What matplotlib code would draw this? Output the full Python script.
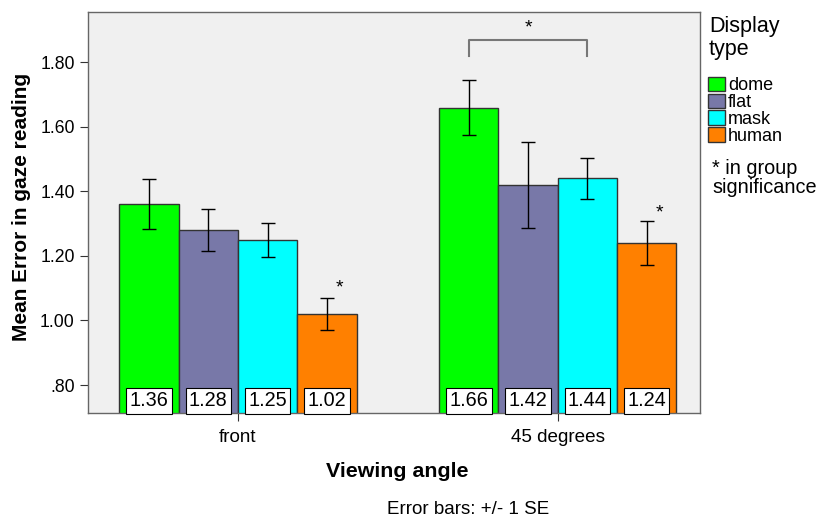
import matplotlib
matplotlib.use("Agg")
import matplotlib.pyplot as plt
from matplotlib.ticker import FuncFormatter
import numpy as np

plt.rcParams['font.family'] = ['Liberation Sans', 'DejaVu Sans']

# mean error per viewing angle and display type
angles = ['front', '45 degrees']
displays = ['dome', 'flat', 'mask', 'human']
colors = ['#00ff00', '#7878a8', '#00ffff', '#ff8000']
means = {
    'dome':  [1.36, 1.66],
    'flat':  [1.28, 1.42],
    'mask':  [1.25, 1.44],
    'human': [1.02, 1.24],
}
se = {
    'dome':  [0.078, 0.084],
    'flat':  [0.064, 0.134],
    'mask':  [0.053, 0.063],
    'human': [0.051, 0.068],
}

fig = plt.figure(figsize=(8.17, 5.19), dpi=100)
ax = fig.add_axes([88/817, 1-413.3/519, 612/817, 401.3/519])
ax.set_facecolor('#f0f0f0')

x = np.arange(len(angles))
w = 0.1855
handles = []
for i, d in enumerate(displays):
    xs = x + (i - 1.5) * w
    b = ax.bar(xs, means[d], width=w, bottom=0, color=colors[i],
               edgecolor='#333333', linewidth=1.0, zorder=2, label=d)
    handles.append(b)
    ax.errorbar(xs, means[d], yerr=se[d], fmt='none', ecolor='black',
                elinewidth=1.0, capsize=5, capthick=1.0, zorder=3)
    # value boxes at the bottom of each bar
    for xi, v in zip(xs, means[d]):
        ax.text(xi, 0.7515, f'{v:.2f}', ha='center', va='center', fontsize=14.3,
                zorder=4, bbox=dict(boxstyle='square,pad=0.17', fc='white',
                                    ec='black', lw=0.8))

# significance marks
ax.text(x[0] + 1.5 * w + 0.04, 1.10, '*', fontsize=14, ha='center', va='center')
ax.text(x[1] + 1.5 * w + 0.04, 1.334, '*', fontsize=14, ha='center', va='center')
bx0 = x[1] - 1.5 * w
bx1 = x[1] + 0.5 * w
ax.plot([bx0, bx0, bx1, bx1], [1.82, 1.869, 1.869, 1.82], color='#777777', lw=1.5, zorder=3)
ax.text((bx0 + bx1) / 2, 1.905, '*', fontsize=14, ha='center', va='center')

ax.set_xlim(-0.469, 1.445)
ax.set_ylim(0.7123, 1.956)
ax.set_yticks([0.8, 1.0, 1.2, 1.4, 1.6, 1.8])
ax.yaxis.set_major_formatter(FuncFormatter(lambda v, p: f'{v:.2f}'.lstrip('0')))
ax.set_xticks(x)
ax.set_xticklabels(angles)
ax.tick_params(axis='y', labelsize=12.7, length=6, width=0.8, color='#333333')
ax.tick_params(axis='x', labelsize=13.6, length=6, width=0.8, color='#333333', pad=5)
for s in ax.spines.values():
    s.set_color('#666666')
    s.set_linewidth(1.0)

ax.set_ylabel('Mean Error in gaze reading', fontsize=15, fontweight='bold')
ax.yaxis.set_label_coords(-0.093, 0.513)
ax.set_xlabel('Viewing angle', fontsize=15.4, fontweight='bold')
ax.xaxis.set_label_coords(0.505, -0.122)

# legend: title as its own text, then the colour swatches
fig.text(709/817, 1-16/519, 'Display\ntype', fontsize=15.5, ha='left', va='top',
         linespacing=1.1)
leg = fig.legend(handles=handles, labels=displays, loc='upper left',
                 bbox_to_anchor=(708/817, 1-77/519), frameon=False, fontsize=13,
                 handlelength=0.95, handleheight=0.85, handletextpad=0.15,
                 labelspacing=-0.04, borderaxespad=0, borderpad=0)
for p in leg.get_patches():
    p.set_edgecolor('#333333')

fig.text(712/817, 1-178/519, '* in group\nsignificance', fontsize=14.3,
         va='center', ha='left', linespacing=0.95)

fig.text(468/817, 1-509/519, 'Error bars: +/- 1 SE', fontsize=13.5,
         ha='center', va='center')

fig.savefig('out.png', dpi=100)
